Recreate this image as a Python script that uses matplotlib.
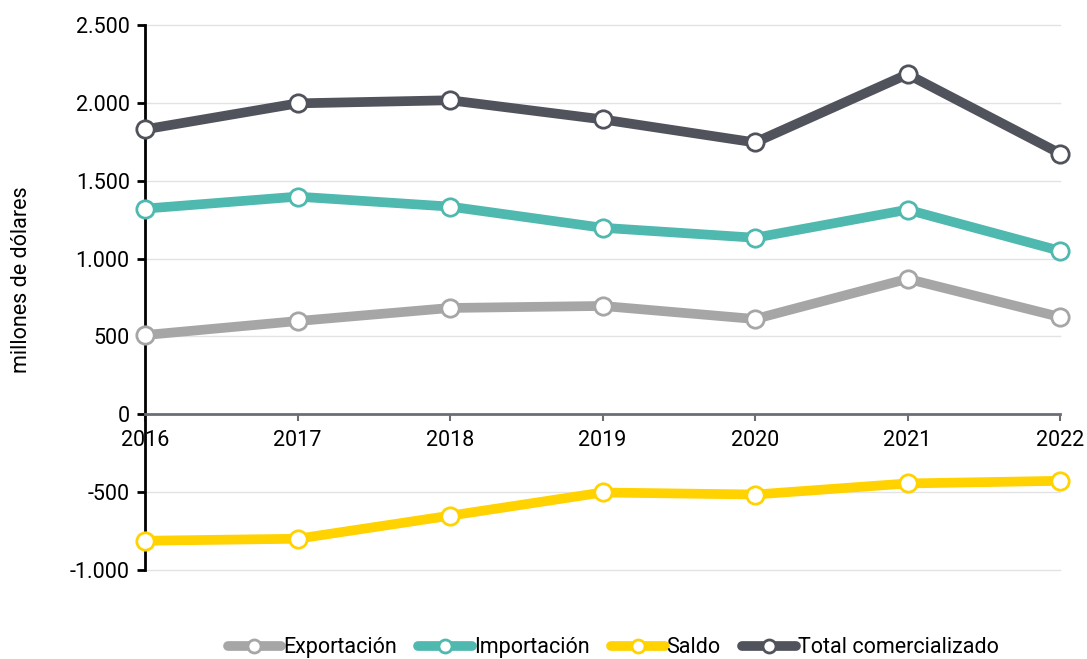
import matplotlib
matplotlib.use('Agg')
import matplotlib.pyplot as plt
from matplotlib.ticker import FuncFormatter

plt.rcParams['font.family'] = ['Roboto', 'DejaVu Sans']

years = [2016, 2017, 2018, 2019, 2020, 2021, 2022]
exportacion = [509, 599, 683, 696, 612, 870, 625]
importacion = [1321, 1398, 1334, 1198, 1134, 1314, 1050]
saldo = [-812, -799, -651, -502, -515, -444, -427]
total = [1830, 1997, 2017, 1894, 1746, 2184, 1675]

series = [
    ('Exportación', exportacion, '#a6a6a6'),
    ('Importación', importacion, '#4fb9af'),
    ('Saldo', saldo, '#ffd200'),
    ('Total comercializado', total, '#50535c'),
]

fig = plt.figure(figsize=(10.87, 6.59), dpi=100)
ax = fig.add_axes([0.1334, 0.135, 0.8418, 0.827])

for name, vals, col in series:
    ax.plot(years, vals, color=col, lw=7, marker='o', markersize=12.5,
            markerfacecolor='white', markeredgecolor=col, markeredgewidth=2,
            label=name, solid_capstyle='round', zorder=3, clip_on=False)

ax.set_xlim(2016, 2022)
ax.set_ylim(-1000, 2500)
ax.set_yticks(range(-1000, 2501, 500))
ax.yaxis.set_major_formatter(FuncFormatter(lambda v, p: '{:,.0f}'.format(v).replace(',', '.')))
ax.set_xticks(years)

ax.grid(axis='y', color='#e3e3e3', lw=1, clip_on=False)
ax.set_axisbelow(True)
for s in ['top', 'right']:
    ax.spines[s].set_visible(False)
ax.spines['left'].set_color('black')
ax.spines['left'].set_linewidth(2)
ax.spines['bottom'].set_position(('data', 0))
ax.spines['bottom'].set_color('#6b6e75')
ax.spines['bottom'].set_linewidth(2)

ax.tick_params(axis='y', length=6, width=2, color='black', labelsize=15.5, pad=5)
ax.tick_params(axis='x', length=5, width=1.5, color='#6b6e75', labelsize=15.5, pad=6)
ax.set_ylabel('millones de dólares', fontsize=15.5)
ax.yaxis.set_label_coords(-0.123, 0.532)

fig.legend(loc='center', bbox_to_anchor=(0.564, 0.017), ncol=4, frameon=False,
           fontsize=15.5, handlelength=2.5, handletextpad=0.08, columnspacing=1.0,
           borderpad=0, markerscale=0.75)

fig.savefig('out.png', dpi=100)
